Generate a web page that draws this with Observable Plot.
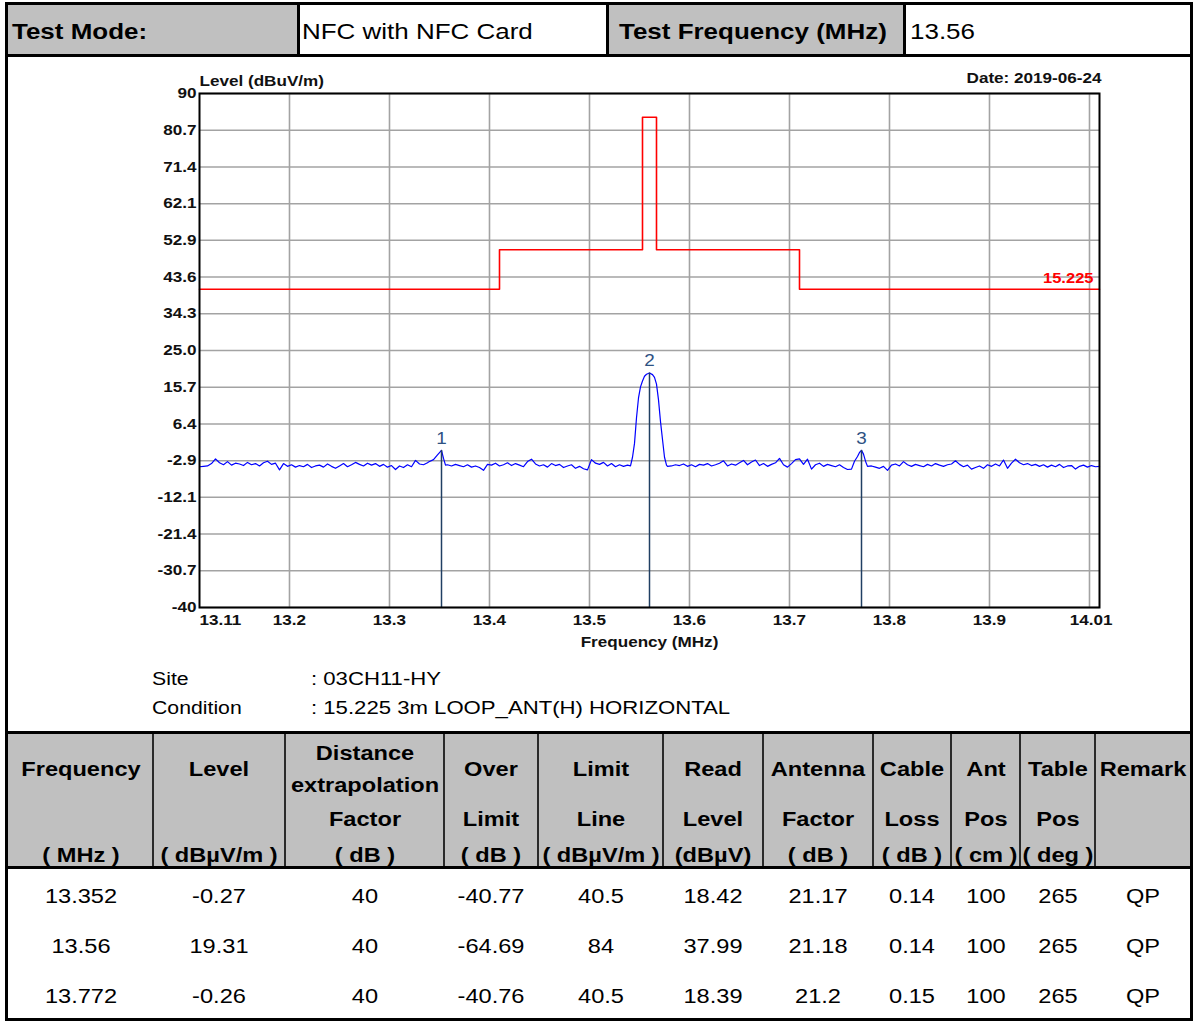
<!DOCTYPE html>
<html>
<head>
<meta charset="utf-8">
<script src="https://cdn.jsdelivr.net/npm/d3@7"></script>
<script src="https://cdn.jsdelivr.net/npm/@observablehq/plot@0.6"></script>
<style>
  html, body { margin: 0; padding: 0; background: #fff; }
  #page { position: relative; width: 1194px; height: 1021px; overflow: hidden; font-family: "Liberation Sans", Arial, sans-serif; color: #000; }
  .box { position: absolute; box-sizing: border-box; }
  .txt { position: absolute; white-space: nowrap; line-height: 1; }
  #chart { position: absolute; left: 8px; top: 57px; }
  #chart svg { overflow: visible; }
</style>
</head>
<body>
<div id="page">
  <div id="chart"></div>
</div>
<script>
// ---------------- DATA ----------------
const testModeLabel = "Test Mode:";
const testModeValue = "NFC with NFC Card";
const testFreqLabel = "Test Frequency (MHz)";
const testFreqValue = "13.56";

const yAxisTitle = "Level (dBuV/m)";
const xAxisTitle = "Frequency (MHz)";
const dateLabel = "Date: 2019-06-24";
const limitRuleName = "15.225";

const yTickValues = [90, 80.7, 71.4, 62.1, 52.9, 43.6, 34.3, 25.0, 15.7, 6.4, -2.9, -12.1, -21.4, -30.7, -40];
const yTickLabels = ["90", "80.7", "71.4", "62.1", "52.9", "43.6", "34.3", "25.0", "15.7", "6.4", "-2.9", "-12.1", "-21.4", "-30.7", "-40"];
const xGridValues = [13.2, 13.3, 13.4, 13.5, 13.6, 13.7, 13.8, 13.9, 14.0];
const xTickValues = [13.11, 13.2, 13.3, 13.4, 13.5, 13.6, 13.7, 13.8, 13.9, 14.01];
const xTickLabels = ["13.11", "13.2", "13.3", "13.4", "13.5", "13.6", "13.7", "13.8", "13.9", "14.01"];

// FCC 15.225 limit line (dBuV/m)
const limitFreq  = [13.11, 13.41, 13.41, 13.553, 13.553, 13.567, 13.567, 13.71, 13.71, 14.01];
const limitLevel = [40.5, 40.5, 50.47, 50.47, 84, 84, 50.47, 50.47, 40.5, 40.5];

// measured trace: sweep 13.11 .. 14.01 MHz, noise floor readings (null = peak region, listed below)
const sweepStart = 13.11;
const sweepStop = 14.01;
const noiseLevels = [
  -4.4,-4.3,-4.2,-3.6,-2.4,-3.4,-3.9,-3.1,-4.0,-3.5,
  -3.7,-4.1,-3.3,-3.9,-3.6,-4.2,-3.4,-3.0,-3.8,-3.5,
  -5.2,-3.6,-4.3,-3.9,-4.5,-4.1,-4.4,-3.8,-4.6,-4.2,
  -4.0,-4.5,-3.7,-4.3,-4.8,-4.2,-3.6,-4.4,-3.9,-3.3,
  -3.8,-4.2,-3.5,-4.0,-3.6,-4.3,-3.8,-4.5,-4.1,-5.1,
  -4.2,-4.6,-3.9,-4.4,-2.8,-3.7,-3.9,-3.4,null,null,
  null,null,-3.9,-4.2,-3.8,-4.1,-4.4,-3.9,-4.5,-4.2,
  -4.6,-5.3,-3.8,-4.0,-3.5,-4.2,-3.9,-3.4,-4.1,-3.6,
  -4.0,-4.4,-3.1,-2.5,-3.7,-4.2,-3.9,-4.5,-3.6,-4.1,
  -3.8,-4.6,-4.2,-3.9,-4.8,-4.3,-4.9,-5.2,-2.6,-3.5,
  -3.8,-3.3,-4.2,-3.6,-4.4,-3.9,-4.3,-4.0,null,null,
  null,null,null,null,null,null,null,-4.3,-4.2,-3.9,
  -4.1,-3.7,-4.3,-3.9,-4.4,-3.8,-4.0,-3.6,-4.2,-3.9,
  -3.5,-2.9,-4.2,-3.7,-4.0,-3.4,-2.8,-3.9,-3.2,-2.7,
  -4.1,-3.6,-4.3,-3.8,-3.4,-2.3,-3.9,-4.5,-3.6,-2.6,
  -2.4,-3.8,-2.5,-5.0,-3.9,-3.5,-4.3,-3.8,-4.1,-4.4,
  -3.9,-4.6,-5.1,null,null,null,null,null,-4.2,-4.5,
  -4.8,-4.3,-5.3,-4.0,-3.7,-4.2,-3.1,-3.9,-4.3,-3.8,
  -4.1,-4.4,-3.8,-4.2,-3.6,-4.0,-4.3,-3.9,-3.7,-2.9,
  -3.8,-4.4,-4.0,-5.0,-4.6,-4.2,-4.8,-3.9,-4.3,-3.7,
  -4.2,-2.7,-4.8,-3.5,-2.5,-3.4,-3.9,-3.6,-4.1,-3.8,
  -4.3,-3.9,-4.5,-4.0,-4.4,-3.8,-4.6,-4.2,-4.1,-5.0,
  -4.3,-4.0,-4.5,-4.1,-4.4,-4.3
];
const peak1Freq  = [13.339, 13.344, 13.348, 13.352, 13.354, 13.356];
const peak1Level = [-3.2, -2.6, -1.4, -0.27, -2.3, -4.0];
const peak2Freq  = [13.541, 13.543, 13.545, 13.547, 13.549, 13.551, 13.553, 13.555, 13.557, 13.560, 13.563, 13.565, 13.567, 13.569, 13.571, 13.573, 13.575, 13.577];
const peak2Level = [-4.2, -2.0, 1.5, 8.0, 13.0, 15.8, 17.3, 18.5, 19.0, 19.31, 18.9, 18.2, 16.5, 12.5, 7.0, 2.5, -2.0, -4.0];
const peak3Freq  = [13.762, 13.765, 13.768, 13.770, 13.772, 13.774, 13.776, 13.778];
const peak3Level = [-5.0, -3.0, -1.8, -0.8, -0.26, -1.2, -3.0, -4.3];

const siteLabel = "Site";
const siteValue = ": 03CH11-HY";
const conditionLabel = "Condition";
const conditionValue = ": 15.225 3m LOOP_ANT(H) HORIZONTAL";

// result table
const headerTop  = ["Frequency", "Level", "Distance|extrapolation", "Over", "Limit", "Read", "Antenna", "Cable", "Ant", "Table", "Remark"];
const headerMid  = ["", "", "Factor", "Limit", "Line", "Level", "Factor", "Loss", "Pos", "Pos", ""];
const headerUnit = ["( MHz )", "( dBµV/m )", "( dB )", "( dB )", "( dBµV/m )", "(dBµV)", "( dB )", "( dB )", "( cm )", "( deg )", ""];

const tblFreq        = [13.352, 13.56, 13.772];
const tblLevel       = [-0.27, 19.31, -0.26];
const tblDistFactor  = [40, 40, 40];
const tblOverLimit   = [-40.77, -64.69, -40.76];
const tblLimitLine   = [40.5, 84, 40.5];
const tblReadLevel   = [18.42, 37.99, 18.39];
const tblAntFactor   = [21.17, 21.18, 21.2];
const tblCableLoss   = [0.14, 0.14, 0.15];
const tblAntPos      = [100, 100, 100];
const tblTablePos    = [265, 265, 265];
const tblRemark      = ["QP", "QP", "QP"];

// ---------------- LAYOUT ----------------
const S = 1.18; // horizontal stretch of the original rendering
const page = document.getElementById("page");

function box(x, y, w, h, bg) {
  const d = document.createElement("div");
  d.className = "box";
  Object.assign(d.style, {left: x + "px", top: y + "px", width: w + "px", height: h + "px", background: bg});
  page.appendChild(d);
  return d;
}
function txt(s, x, y, opts = {}) {
  const d = document.createElement("div");
  d.className = "txt";
  d.textContent = s;
  const align = opts.align || "center";
  const tx = align === "center" ? "-50%" : align === "right" ? "-100%" : "0";
  const origin = align === "center" ? "center" : align === "right" ? "right" : "left";
  Object.assign(d.style, {
    left: x + "px", top: y + "px",
    fontSize: (opts.size || 20) + "px",
    fontWeight: opts.bold ? "bold" : "normal",
    color: opts.color || "#000",
    transformOrigin: origin + " center",
    transform: `translate(${tx},-50%) scaleX(${opts.stretch || S})`
  });
  if (opts.family) d.style.fontFamily = opts.family;
  page.appendChild(d);
  return d;
}

// top info row
box(8, 5, 289, 49, "#c0c0c0");
box(609, 5, 294, 49, "#c0c0c0");
box(297, 5, 3, 49, "#000");
box(606, 5, 3, 49, "#000");
box(903, 5, 3, 49, "#000");
box(5, 54, 1188, 3, "#000");
txt(testModeLabel, 12, 32, {align: "left", bold: true, size: 22});
txt(testModeValue, 302, 32, {align: "left", size: 22});
txt(testFreqLabel, 619, 32, {align: "left", bold: true, size: 22});
txt(testFreqValue, 910, 32, {align: "left", size: 22});

// site / condition
txt(siteLabel, 152, 679, {align: "left", size: 18, stretch: 1.18});
txt(conditionLabel, 152, 708, {align: "left", size: 18, stretch: 1.18});
txt(siteValue, 311, 679, {align: "left", size: 18, stretch: 1.23});
txt(conditionValue, 311, 708, {align: "left", size: 18, stretch: 1.23});

// result table
const colEdges = [8, 153, 285, 444, 538, 663, 763, 873, 951, 1020, 1095, 1190];
box(5, 731, 1188, 3, "#000");
box(8, 734, 1182, 132, "#c0c0c0");
box(5, 866, 1188, 3, "#000");
for (let k = 1; k < colEdges.length - 1; k++) box(colEdges[k] - 1, 734, 2, 132, "#2a2a2a");
headerTop.forEach((h, k) => {
  const cx = (colEdges[k] + colEdges[k + 1]) / 2;
  const parts = h.split("|");
  if (parts.length === 2) {
    txt(parts[0], cx, 753, {bold: true});
    txt(parts[1], cx, 785, {bold: true});
  } else {
    txt(h, cx, 769, {bold: true});
  }
  if (headerMid[k]) txt(headerMid[k], cx, 819, {bold: true});
  if (headerUnit[k]) txt(headerUnit[k], cx, 855, {bold: true});
});
const tableCols = [tblFreq, tblLevel, tblDistFactor, tblOverLimit, tblLimitLine, tblReadLevel, tblAntFactor, tblCableLoss, tblAntPos, tblTablePos, tblRemark];
const rowY = [896, 946, 996];
tableCols.forEach((col, k) => {
  const cx = (colEdges[k] + colEdges[k + 1]) / 2;
  col.forEach((v, r) => txt(String(v), cx, rowY[r], {size: 20}));
});

// outer border (drawn last)
const outer = box(5, 2, 1188, 1019, "transparent");
outer.style.border = "3px solid #000";

// ---------------- CHART ----------------
const trace = [];
noiseLevels.forEach((v, i) => {
  if (v !== null) trace.push({f: sweepStart + i * (sweepStop - sweepStart) / (noiseLevels.length - 1), level: v});
});
[[peak1Freq, peak1Level], [peak2Freq, peak2Level], [peak3Freq, peak3Level]].forEach(([F, L]) =>
  F.forEach((f, i) => trace.push({f, level: L[i]})));
trace.sort((a, b) => a.f - b.f);

const limitPts = limitFreq.map((f, i) => ({f, level: limitLevel[i]}));
const markers = tblFreq.map((f, i) => ({f, level: tblLevel[i], n: String(i + 1)}));
const limitTag = [{f: limitFreq[limitFreq.length - 1], level: limitLevel[limitLevel.length - 1], label: limitRuleName}];

const labelFont = {fontWeight: "bold", fontSize: 14.5, fill: "#111", lineAnchor: "middle"};
const xMid = xTickValues.slice(1, -1);
const xMidLabels = xTickLabels.slice(1, -1);

const chart = Plot.plot({
  width: 1182, height: 619,
  marginLeft: 191, marginRight: 91, marginTop: 36, marginBottom: 69,
  x: {domain: [sweepStart, sweepStop], axis: null},
  y: {domain: [-40, 90], axis: null},
  style: {background: "transparent", fontFamily: "'Liberation Sans', Arial, sans-serif", overflow: "visible"},
  marks: [
    Plot.ruleY(yTickValues, {y: d => d, stroke: "#a3a3a3", strokeWidth: 1.6}),
    Plot.ruleX(xGridValues, {x: d => d, stroke: "#a3a3a3", strokeWidth: 1.6}),
    Plot.line(limitPts, {x: "f", y: "level", stroke: "#ff0000", strokeWidth: 1.6}),
    Plot.line(trace, {x: "f", y: "level", stroke: "#0000ff", strokeWidth: 1.2}),
    Plot.ruleX(markers, {x: "f", y1: "level", y2: -40, stroke: "#203f63", strokeWidth: 1.5}),
    Plot.text(markers, {x: "f", y: "level", text: "n", dy: -12, fill: "#2e5283", fontSize: 16, lineAnchor: "middle"}),
    Plot.text(limitTag, {x: "f", y: "level", text: "label", textAnchor: "end", dx: -6, dy: -11, fill: "#ff0000", fontWeight: "bold", fontSize: 14, lineAnchor: "middle"}),
    Plot.frame({stroke: "#000", strokeWidth: 2}),
    Plot.text(yTickValues, {y: d => d, text: (d, i) => yTickLabels[i], frameAnchor: "left", textAnchor: "end", dx: -3, ...labelFont}),
    Plot.text([xTickValues[0]], {x: d => d, text: () => xTickLabels[0], frameAnchor: "bottom", textAnchor: "start", dy: 13, ...labelFont}),
    Plot.text(xMid, {x: d => d, text: (d, i) => xMidLabels[i], frameAnchor: "bottom", dy: 13, ...labelFont}),
    Plot.text([xTickValues[xTickValues.length - 1]], {x: d => d, text: () => xTickLabels[xTickLabels.length - 1], frameAnchor: "bottom", textAnchor: "end", dx: 13, dy: 13, ...labelFont}),
    Plot.text([yAxisTitle], {frameAnchor: "top-left", textAnchor: "start", dy: -12, ...labelFont}),
    Plot.text([dateLabel], {frameAnchor: "top-right", textAnchor: "end", dx: 2, dy: -15, ...labelFont}),
    Plot.text([xAxisTitle], {frameAnchor: "bottom", dy: 35, ...labelFont})
  ]
});

// stretch glyphs horizontally around their anchors, like the original rendering
chart.querySelectorAll("text").forEach(t => {
  const tr = t.getAttribute("transform") || "";
  t.setAttribute("transform", `${tr} scale(${S},1)`.trim());
});

document.getElementById("chart").appendChild(chart);
</script>
</body>
</html>
